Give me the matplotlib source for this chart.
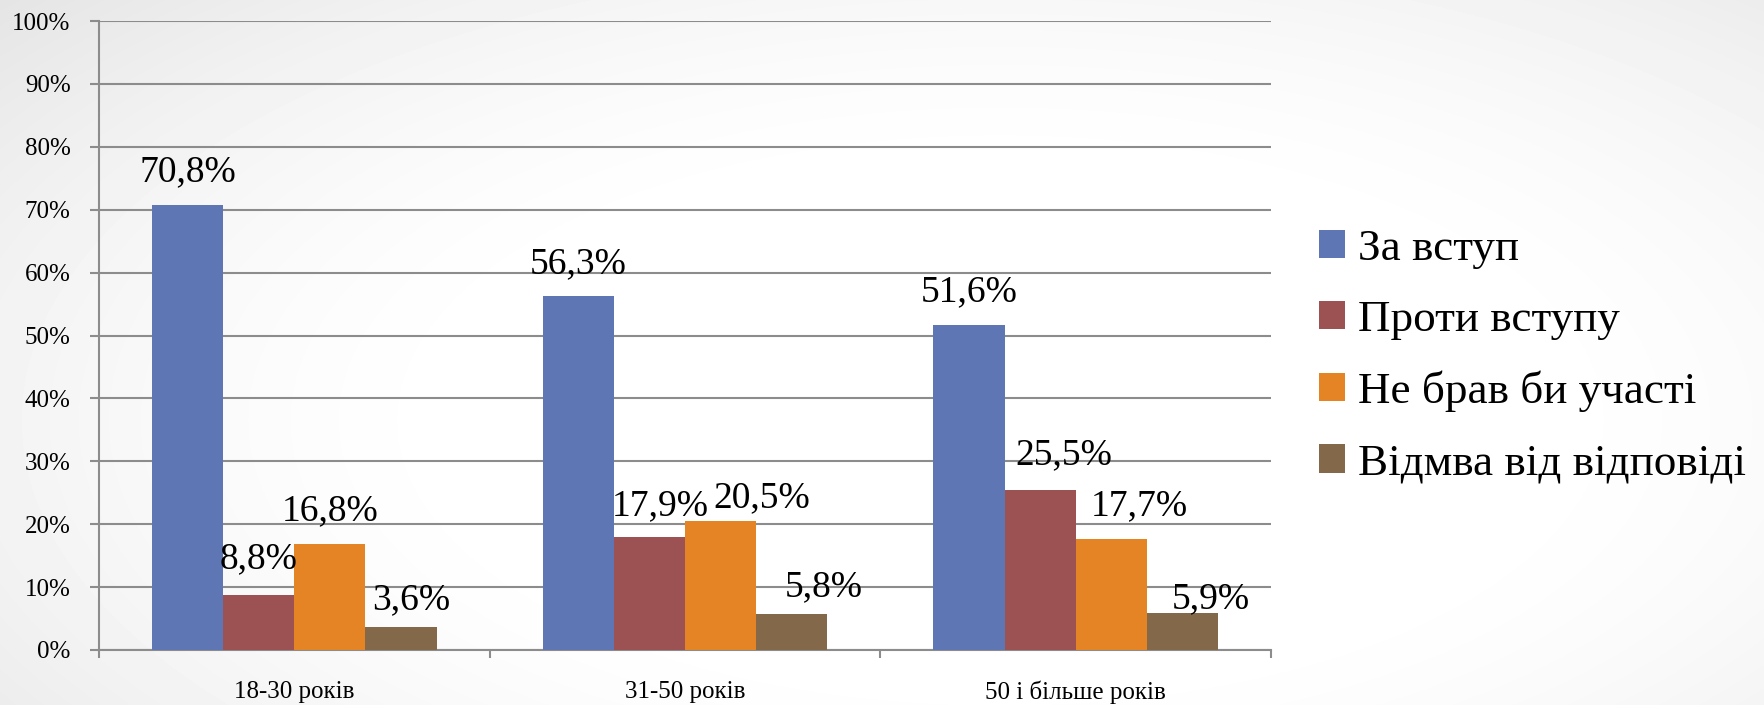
import numpy as np
import matplotlib
matplotlib.use('Agg')
import matplotlib.pyplot as plt

# data
categories = ['18-30 років', '31-50 років', '50 і більше років']
series = ['За вступ', 'Проти вступу', 'Не брав би участі', 'Відмва від відповіді']
values = [
    [70.8, 56.3, 51.6],   # За вступ
    [8.8, 17.9, 25.5],    # Проти вступу
    [16.8, 20.5, 17.7],   # Не брав би участі
    [3.6, 5.8, 5.9],      # Відмва від відповіді
]
colors = ['#5F76B4', '#9C5152', '#E48424', '#84684A']
yticks = [0, 10, 20, 30, 40, 50, 60, 70, 80, 90, 100]

# manual nudges of the value labels (pixels): sideways shift and gap above bar
label_dx = [[0, 0, 0], [0, 11, 24], [0, 41, 28], [10, 32, 28]]
label_gap = [[23, 23, 24], [26, 22, 25], [24, 14, 23], [18, 17, 5]]

plt.rcParams['font.family'] = ['Liberation Serif', 'DejaVu Serif']

W, H, DPI = 1764, 705, 100
fig = plt.figure(figsize=(W / DPI, H / DPI), dpi=DPI)

# soft vignette background
bg = fig.add_axes([0, 0, 1, 1], zorder=-10)
yy, xx = np.mgrid[0:H, 0:W]
r = np.sqrt(((xx - 1000) / 1100.0) ** 2 + ((yy - 420) / 520.0) ** 2)
shade = 1.0 - 0.16 * np.clip(r - 0.45, 0, None) ** 1.6
bg.imshow(shade, cmap='gray', vmin=0, vmax=1, aspect='auto', interpolation='bilinear')
bg.axis('off')

ax = fig.add_axes([99 / W, 1 - 650 / H, (1271 - 99) / W, (650 - 21) / H])
ax.patch.set_alpha(0)

bar_w = 0.182
x = np.arange(len(categories))
px = 72.0 / DPI
for i, (name, vals) in enumerate(zip(series, values)):
    pos = x + (i - 1.5) * bar_w
    ax.bar(pos, vals, width=bar_w, color=colors[i], label=name, zorder=3)
    for j, v in enumerate(vals):
        ax.annotate(f'{v:.1f}%'.replace('.', ','), (pos[j], v),
                    xytext=(label_dx[i][j] * px, label_gap[i][j] * px),
                    textcoords='offset points', ha='center', va='baseline',
                    fontsize=27, color='black', zorder=5)

ax.set_xlim(-0.5, len(categories) - 0.5)
ax.set_ylim(0, 100)
ax.set_yticks(yticks)
ax.set_yticklabels([f'{t}%' for t in yticks])
ax.yaxis.grid(True, color='#8C8C8C', linewidth=1.5, zorder=0)
ax.set_axisbelow(True)

ax.set_xticks(x)
ax.set_xticklabels(categories)
ax.set_xticks(np.arange(len(categories) + 1) - 0.5, minor=True)
ax.tick_params(axis='x', which='major', length=0, labelsize=18, pad=22)
ax.tick_params(axis='x', which='minor', length=6, width=1.5, color='#8C8C8C')
ax.tick_params(axis='y', length=6.5, width=1.5, color='#8C8C8C', labelsize=18, pad=14)

for s in ['top', 'right']:
    ax.spines[s].set_visible(False)
for s in ['left', 'bottom']:
    ax.spines[s].set_color('#8C8C8C')
    ax.spines[s].set_linewidth(1.5)

fig.legend(loc='center left', bbox_to_anchor=(1319 / W, 1 - 356 / H),
           frameon=False, fontsize=32.5, handlelength=0.58, handleheight=0.58,
           handletextpad=0.29, labelspacing=0.69, borderpad=0, borderaxespad=0)

fig.savefig('out.png', dpi=DPI)
